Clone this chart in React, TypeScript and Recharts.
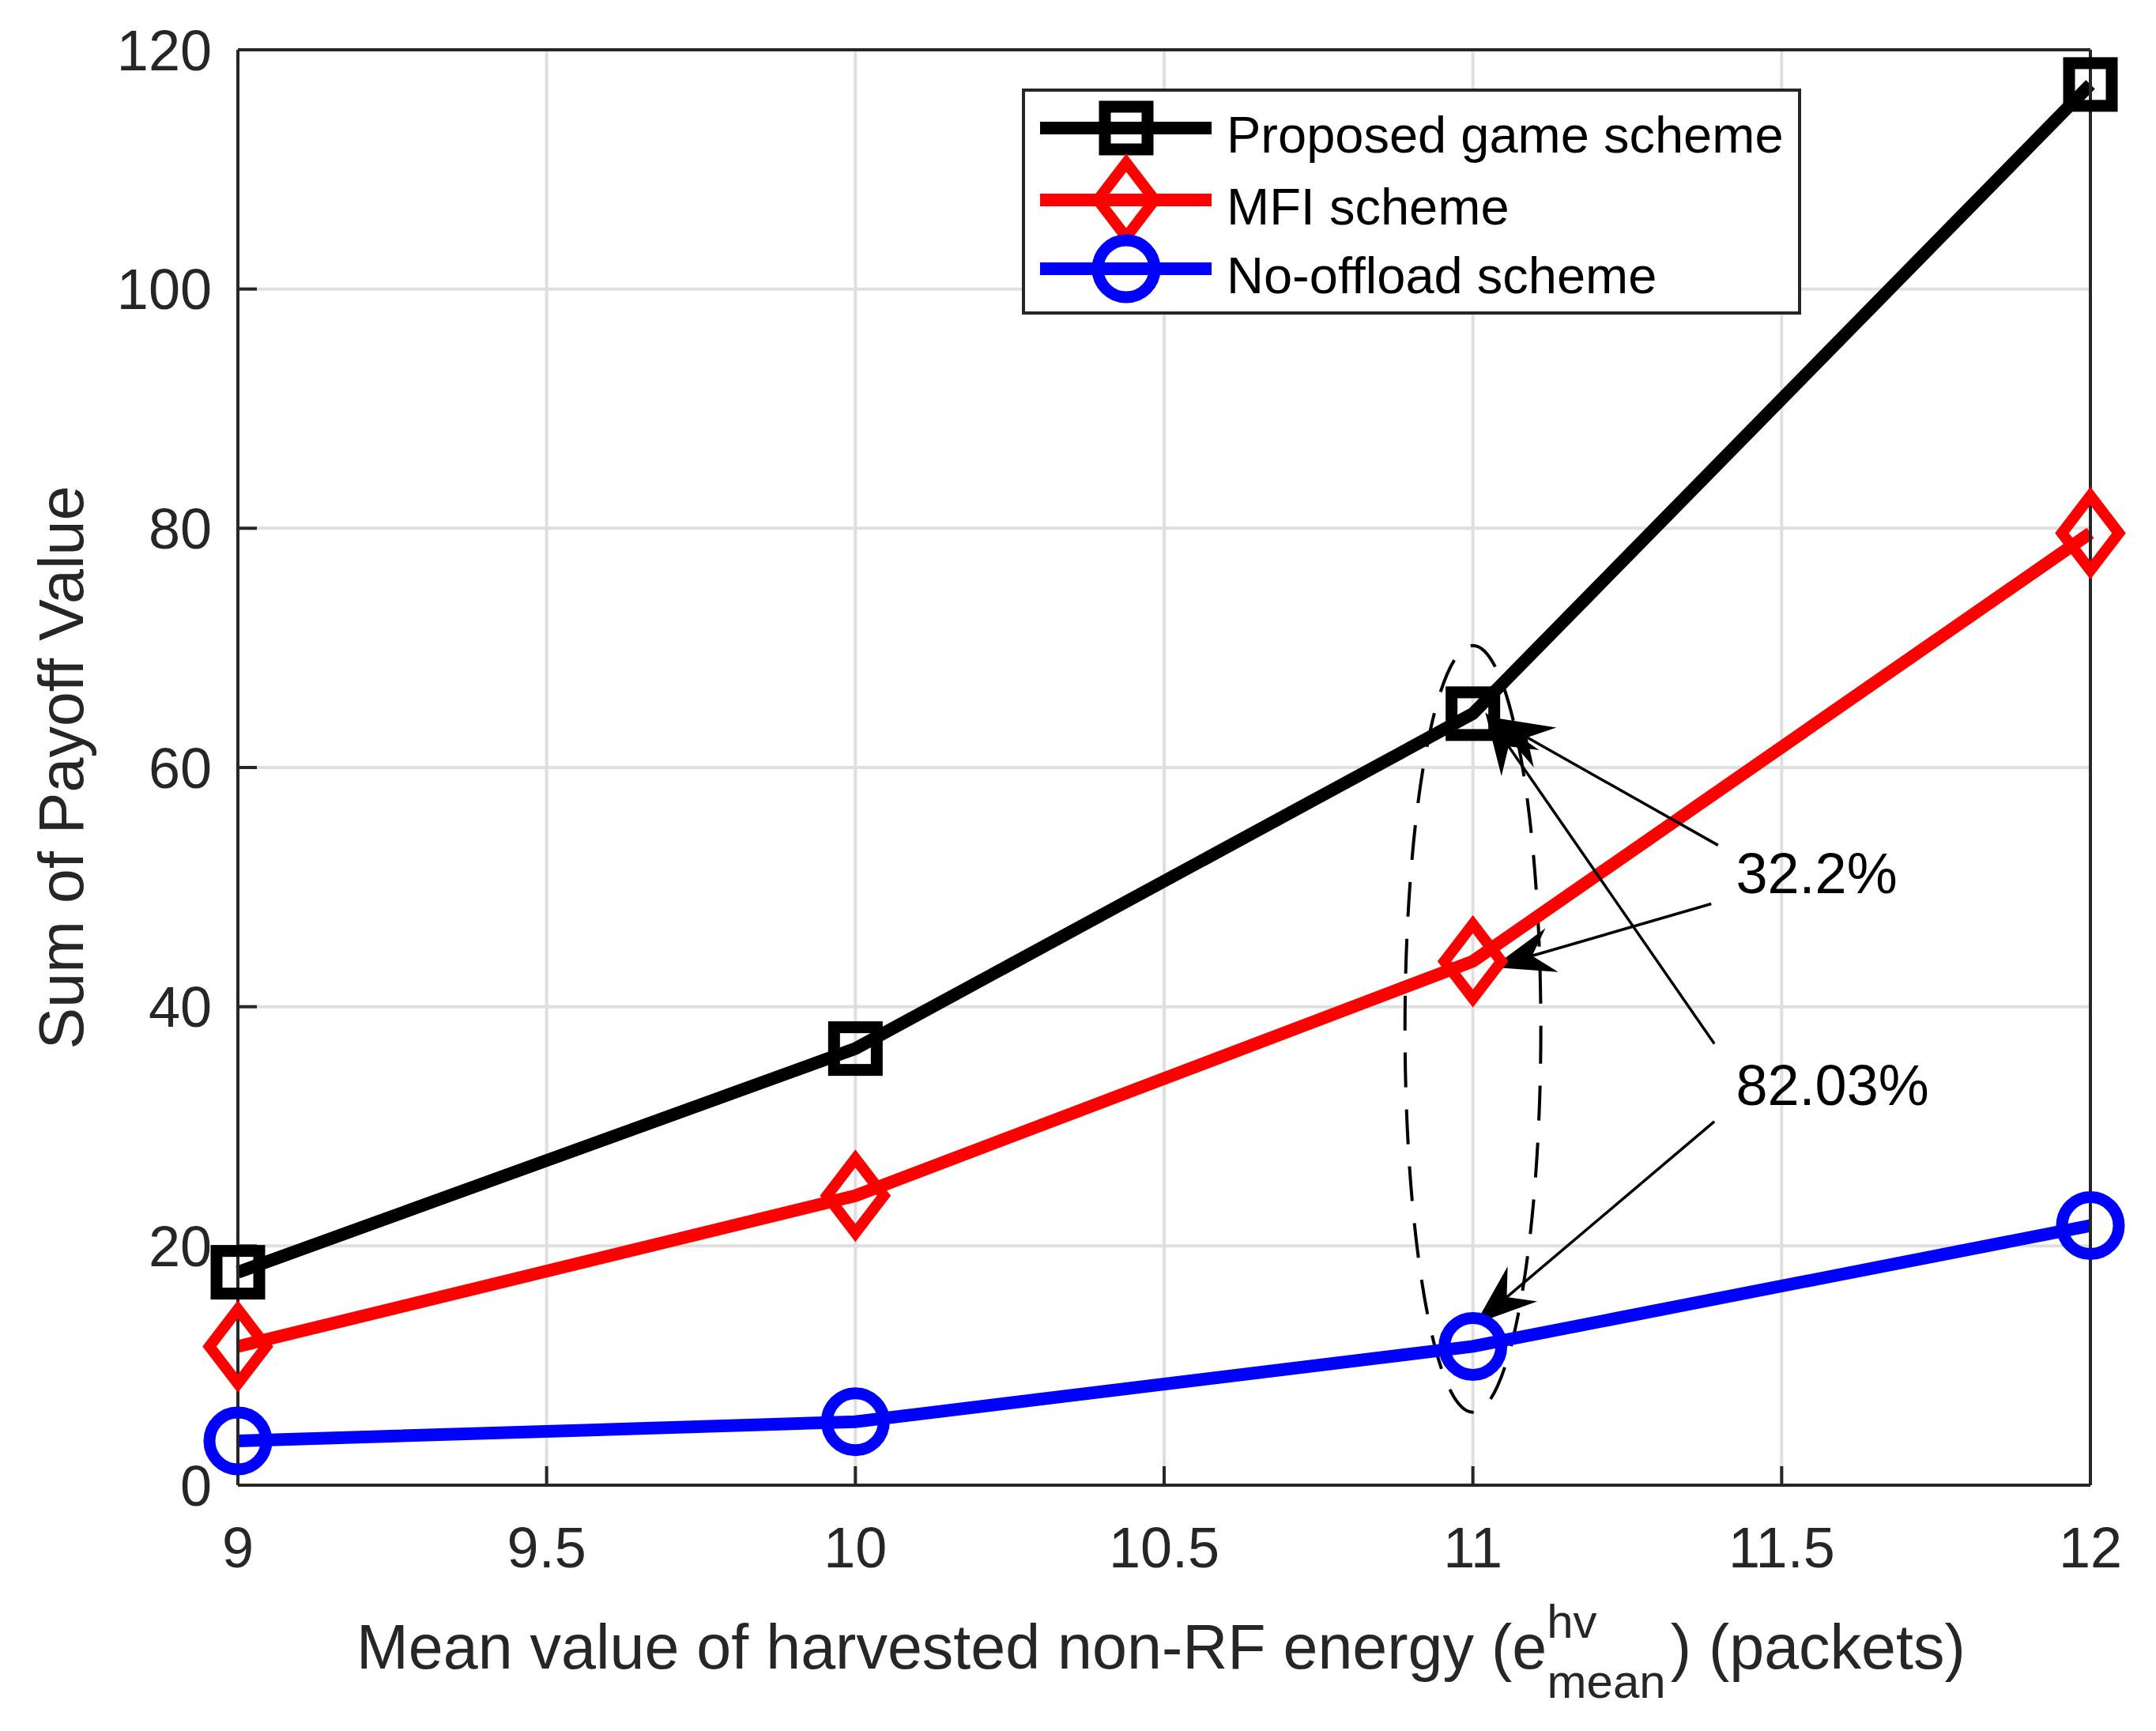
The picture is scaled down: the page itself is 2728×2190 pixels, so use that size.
import React from "react";
import {
  LineChart,
  Line,
  XAxis,
  YAxis,
  CartesianGrid,
  Legend,
  ReferenceArea,
  ReferenceLine,
  ReferenceDot,
} from "recharts";

const FONT = "'Liberation Sans', Arial, Helvetica, sans-serif";
const AXIS_COLOR = "#262626";

// mean harvested non-RF energy (packets)
const energyLevels = [9, 10, 11, 12];
// sum of payoff values
const proposedGame = [17.8, 36.5, 64.5, 117.1];
const mfiScheme = [11.6, 24.2, 43.8, 79.6];
const noOffload = [3.7, 5.3, 11.6, 21.7];

const xTicks = [9, 9.5, 10, 10.5, 11, 11.5, 12];
const yTicks = [0, 20, 40, 60, 80, 100, 120];

const seriesInfo = [
  { key: "proposed", name: "Proposed game scheme", color: "#000000", marker: "square" },
  { key: "mfi", name: "MFI scheme", color: "#ff0000", marker: "diamond" },
  { key: "noOffload", name: "No-offload scheme", color: "#0000ff", marker: "circle" },
];

// annotation arrows (data coords): from the text to the point
const arrows = [
  { from: { x: 11.397, y: 53.5 }, to: { x: 11.03, y: 64.2 } },
  { from: { x: 11.386, y: 48.6 }, to: { x: 11.032, y: 43.3 } },
  { from: { x: 11.391, y: 36.9 }, to: { x: 11.02, y: 64.6 } },
  { from: { x: 11.391, y: 30.4 }, to: { x: 11.004, y: 13.5 } },
];
const notes = [
  { x: 11.426, y: 49.5, text: "32.2%" },
  { x: 11.426, y: 31.8, text: "82.03%" },
];
const ellipseBox = { x1: 10.89, x2: 11.11, y1: 6.1, y2: 70.2 };

const data = energyLevels.map((x, i) => ({
  x,
  proposed: proposedGame[i],
  mfi: mfiScheme[i],
  noOffload: noOffload[i],
}));

function Marker({ kind, cx, cy, color }: any) {
  if (cx == null || cy == null) return null;
  if (kind === "square") {
    return (
      <rect x={cx - 27} y={cy - 27} width={54} height={54} fill="none" stroke={color} strokeWidth={15} />
    );
  }
  if (kind === "diamond") {
    return (
      <polygon
        points={`${cx},${cy - 47} ${cx + 36},${cy} ${cx},${cy + 47} ${cx - 36},${cy}`}
        fill="none"
        stroke={color}
        strokeWidth={14}
        strokeLinejoin="miter"
        strokeMiterlimit={10}
      />
    );
  }
  return <circle cx={cx} cy={cy} r={36} fill="none" stroke={color} strokeWidth={15} />;
}

function Arrow(props: any) {
  const { x1, y1, x2, y2 } = props;
  const dx = x2 - x1;
  const dy = y2 - y1;
  const len = Math.hypot(dx, dy) || 1;
  const ux = dx / len;
  const uy = dy / len;
  const px = -uy;
  const py = ux;
  const L = 78;
  const W = 29;
  const N = 52;
  const bx = x2 - ux * L;
  const by = y2 - uy * L;
  const nx = x2 - ux * N;
  const ny = y2 - uy * N;
  const pts = [
    [x2, y2],
    [bx + px * W, by + py * W],
    [nx, ny],
    [bx - px * W, by - py * W],
  ]
    .map((p) => p.join(","))
    .join(" ");
  return (
    <g>
      <line x1={x1} y1={y1} x2={nx} y2={ny} stroke="#000" strokeWidth={3.5} />
      <polygon points={pts} fill="#000" />
    </g>
  );
}

function EllipseShape(props: any) {
  const { x, y, width, height } = props;
  return (
    <ellipse
      cx={x + width / 2}
      cy={y + height / 2}
      rx={width / 2}
      ry={height / 2}
      fill="none"
      stroke="#000"
      strokeWidth={4}
      strokeDasharray="44 28"
    />
  );
}

function NoteText(text: string) {
  return (props: any) => (
    <text x={props.cx} y={props.cy} fontFamily={FONT} fontSize={72} fill="#000" textAnchor="start">
      {text}
    </text>
  );
}

function XLabel(props: any) {
  const vb = props.viewBox || { x: 301, y: 1879 };
  return (
    <text x={vb.x + 150} y={vb.y + 232} fontFamily={FONT} fontSize={79} fill={AXIS_COLOR}>
      Mean value of harvested non-RF energy (e
      <tspan fontSize={60} dy={-39}>hv</tspan>
      <tspan fontSize={60} dx={-63} dy={76}>mean</tspan>
      <tspan fontSize={79} dx={6} dy={-37}>) (packets)</tspan>
    </text>
  );
}

function YLabel(props: any) {
  const vb = props.viewBox || { y: 63, height: 1816 };
  const cx = 105;
  const cy = vb.y + vb.height / 2;
  return (
    <text
      x={cx}
      y={cy}
      transform={`rotate(-90, ${cx}, ${cy})`}
      textAnchor="middle"
      fontFamily={FONT}
      fontSize={79}
      fill={AXIS_COLOR}
    >
      Sum of Payoff Value
    </text>
  );
}

const legendRows = [50, 141, 228];

function LegendBox() {
  return (
    <svg width={986} height={286} style={{ display: "block", overflow: "visible" }}>
      <rect x={2} y={2} width={982} height={282} fill="#fff" stroke={AXIS_COLOR} strokeWidth={4} />
      {seriesInfo.map((s, i) => {
        const cy = legendRows[i];
        return (
          <g key={s.key}>
            <line x1={23} x2={240} y1={cy} y2={cy} stroke={s.color} strokeWidth={16} />
            <Marker kind={s.marker} cx={132} cy={cy} color={s.color} />
            <text x={259} y={cy + 31} fontFamily={FONT} fontSize={65} fill="#000">
              {s.name}
            </text>
          </g>
        );
      })}
    </svg>
  );
}

const tickStyle = { fill: AXIS_COLOR, fontSize: 72, fontFamily: FONT };
const axisLineStyle = { stroke: AXIS_COLOR, strokeWidth: 4 };

export default function App() {
  return (
    <div style={{ position: "absolute", left: 0, top: 0, width: 2728, height: 2190, background: "#fff" }}>
      <LineChart
        width={2728}
        height={2190}
        data={data}
        margin={{ top: 62, right: 82, left: 0, bottom: 0 }}
        style={{ fontFamily: FONT }}
      >
        <CartesianGrid stroke="#dfdfdf" strokeWidth={4} />
        <XAxis
          dataKey="x"
          type="number"
          domain={[9, 12]}
          ticks={xTicks}
          height={311}
          tick={tickStyle}
          tickSize={-24}
          tickMargin={77}
          axisLine={axisLineStyle}
          tickLine={axisLineStyle}
          label={<XLabel />}
        />
        <XAxis
          xAxisId="top"
          orientation="top"
          type="number"
          domain={[9, 12]}
          ticks={xTicks}
          height={1}
          tick={false}
          tickSize={-24}
          axisLine={axisLineStyle}
          tickLine={axisLineStyle}
        />
        <YAxis
          type="number"
          domain={[0, 120]}
          ticks={yTicks}
          width={301}
          tick={tickStyle}
          tickSize={-24}
          tickMargin={57}
          axisLine={axisLineStyle}
          tickLine={axisLineStyle}
          label={<YLabel />}
        />
        <YAxis
          yAxisId="right"
          orientation="right"
          type="number"
          domain={[0, 120]}
          ticks={yTicks}
          width={1}
          tick={false}
          tickSize={-24}
          axisLine={axisLineStyle}
          tickLine={axisLineStyle}
        />
        {seriesInfo.map((s) => (
          <Line
            key={s.key}
            type="linear"
            dataKey={s.key}
            name={s.name}
            stroke={s.color}
            strokeWidth={16}
            isAnimationActive={false}
            activeDot={false}
            dot={(p: any) => (
              <Marker key={`${s.key}-${p.index}`} kind={s.marker} cx={p.cx} cy={p.cy} color={s.color} />
            )}
          />
        ))}
        <ReferenceArea
          x1={ellipseBox.x1}
          x2={ellipseBox.x2}
          y1={ellipseBox.y1}
          y2={ellipseBox.y2}
          shape={EllipseShape}
        />
        {arrows.map((a, i) => (
          <ReferenceLine key={`arrow-${i}`} segment={[a.from, a.to]} shape={Arrow} />
        ))}
        {notes.map((n) => (
          <ReferenceDot key={n.text} x={n.x} y={n.y} r={0} shape={NoteText(n.text)} />
        ))}
        <Legend
          layout="vertical"
          align="center"
          verticalAlign="middle"
          content={() => <LegendBox />}
          wrapperStyle={{ position: "absolute", left: 1293, top: 112, width: 986, height: 286, lineHeight: 0 }}
        />
      </LineChart>
    </div>
  );
}
